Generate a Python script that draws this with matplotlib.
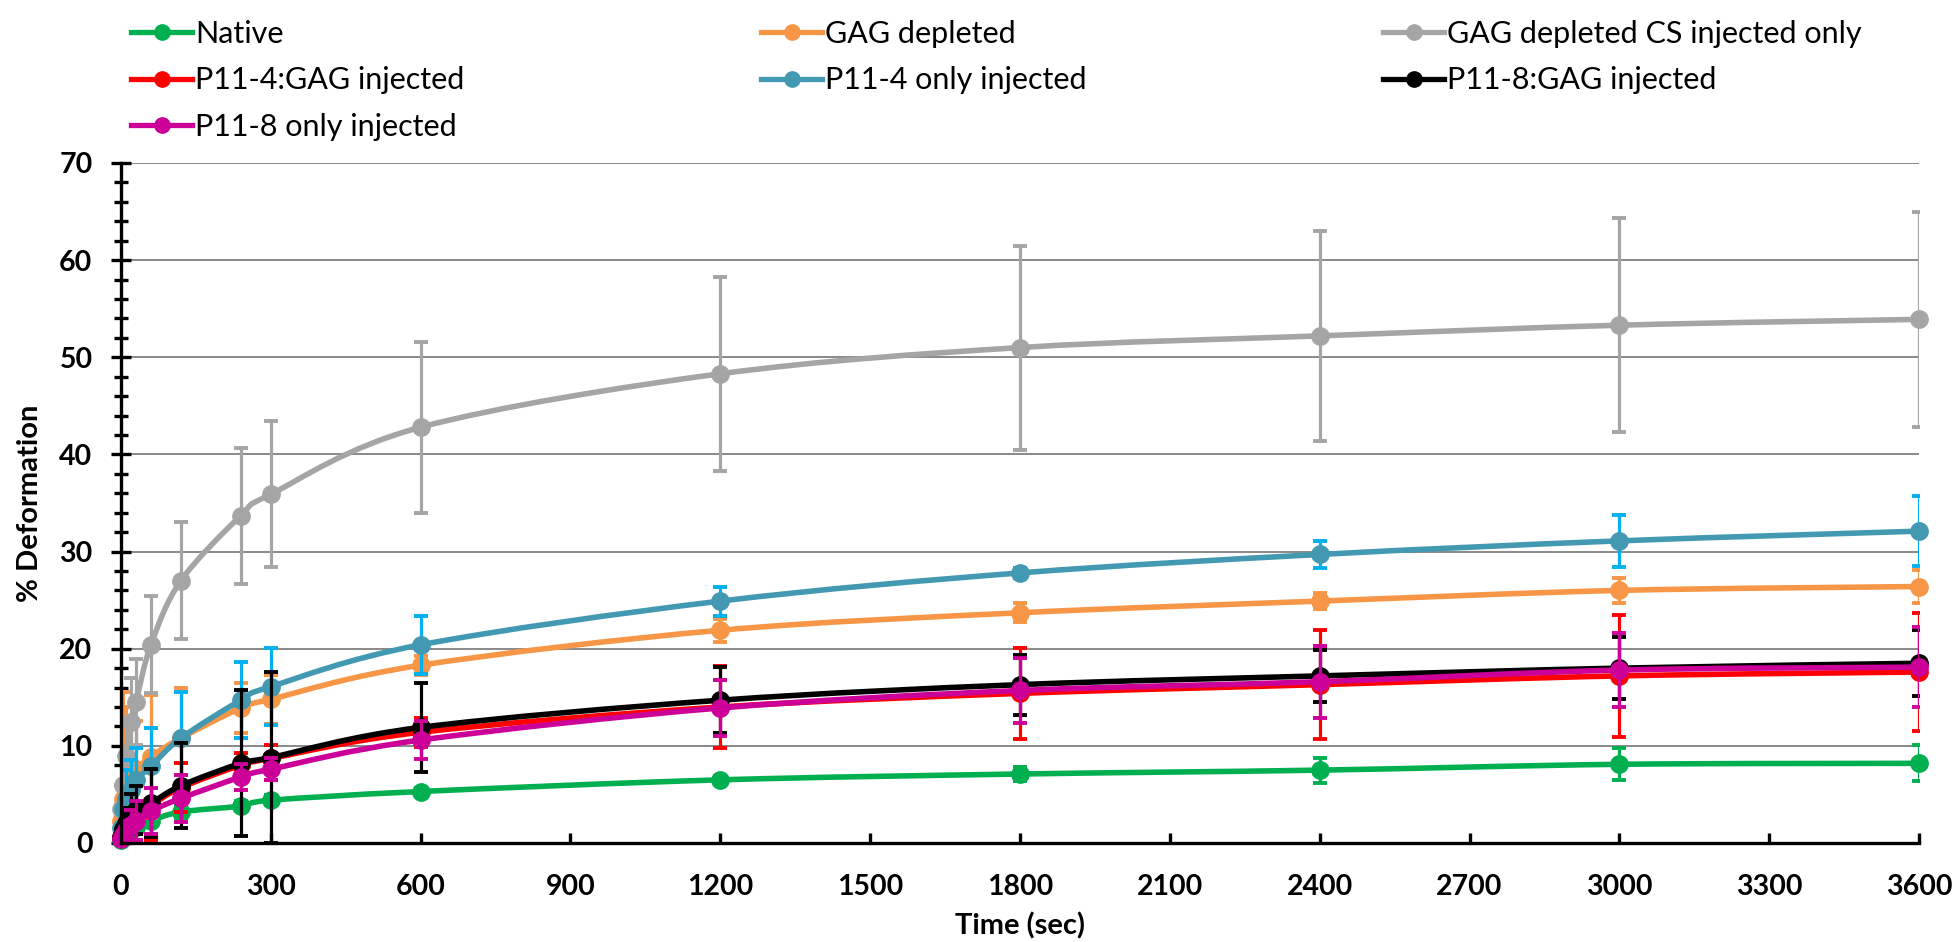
import numpy as np
import matplotlib
matplotlib.use("Agg")
import matplotlib.pyplot as plt
from matplotlib.path import Path
from matplotlib.patches import PathPatch
from matplotlib.lines import Line2D
from matplotlib.ticker import MultipleLocator

plt.rcParams['font.family'] = ['Lato', 'DejaVu Sans']

# Creep time points (s)
time_s = [1, 5, 10, 20, 30, 60, 120, 240, 300, 600, 1200, 1800, 2400, 3000, 3600]

# Mean % deformation per group
native = [0.3, 0.6, 0.9, 1.3, 1.6, 2.3, 3.2, 3.8, 4.4, 5.3, 6.5, 7.1, 7.5, 8.1, 8.2]
gag_depleted = [2.3, 4.5, 6.0, 7.0, 7.6, 8.9, 10.8, 13.9, 14.8, 18.3, 21.9, 23.7, 24.9, 26.0, 26.4]
gag_depleted_cs = [3.5, 6.0, 9.0, 12.5, 14.5, 20.4, 27.0, 33.7, 35.9, 42.8, 48.3, 51.0, 52.2, 53.3, 53.9]
p114_gag = [0.6, 1.3, 2.0, 2.8, 3.2, 3.9, 5.7, 8.0, 8.7, 11.4, 14.0, 15.4, 16.3, 17.2, 17.6]
p114_only = [1.5, 3.5, 4.5, 5.5, 6.5, 7.9, 10.8, 14.7, 16.1, 20.4, 24.9, 27.8, 29.7, 31.1, 32.1]
p118_gag = [0.6, 1.4, 2.1, 3.0, 3.4, 4.1, 5.9, 8.2, 8.8, 11.9, 14.7, 16.3, 17.2, 18.0, 18.5]
p118_only = [0.4, 0.8, 1.3, 1.9, 2.3, 3.3, 4.6, 6.8, 7.6, 10.6, 13.9, 15.7, 16.6, 17.8, 18.1]

# Standard deviations
native_sd = [0.2, 0.3, 0.4, 0.5, 0.5, 0.6, 0.6, 0.5, 0.5, 0.4, 0.4, 0.7, 1.3, 1.65, 1.85]
gag_depleted_sd = [2.0, 11.0, 8.0, 6.0, 5.0, 6.3, 5.2, 2.6, 2.5, 1.0, 1.2, 1.0, 0.8, 1.3, 1.7]
gag_depleted_cs_sd = [2.5, 3.0, 3.5, 4.5, 4.4, 5.0, 6.0, 7.0, 7.5, 8.8, 10.0, 10.5, 10.8, 11.0, 11.1]
p114_gag_sd = [0.5, 1.0, 1.5, 2.5, 3.0, 3.6, 2.5, 1.3, 1.4, 1.5, 4.2, 4.7, 5.6, 6.3, 6.1]
p114_only_sd = [1.0, 2.0, 3.0, 3.0, 3.3, 3.9, 4.7, 3.9, 4.0, 3.0, 1.5, 0.5, 1.4, 2.7, 3.6]
p118_gag_sd = [0.5, 1.0, 1.5, 2.0, 2.5, 3.5, 4.4, 7.5, 8.8, 4.6, 3.4, 3.1, 2.7, 3.2, 3.4]
p118_only_sd = [0.3, 0.6, 1.0, 1.5, 2.0, 2.4, 2.4, 1.3, 1.1, 2.0, 2.85, 3.3, 3.7, 3.85, 4.1]

labels = ["Native", "GAG depleted", "GAG depleted CS injected only",
          "P11-4:GAG injected", "P11-4 only injected", "P11-8:GAG injected",
          "P11-8 only injected"]
means = [native, gag_depleted, gag_depleted_cs, p114_gag, p114_only, p118_gag, p118_only]
sds = [native_sd, gag_depleted_sd, gag_depleted_cs_sd, p114_gag_sd, p114_only_sd,
       p118_gag_sd, p118_only_sd]
line_colors = ["#00B050", "#F79646", "#A5A5A5", "#FF0000", "#4399B1", "#000000", "#CC0099"]
err_colors = ["#00B050", "#F79646", "#A5A5A5", "#FF0000", "#00B0F0", "#000000", "#CC0099"]


def smooth_path(x, y):
    """Cubic Bezier path through the points (Catmull-Rom style control points)."""
    pts = np.column_stack([x, y]).astype(float)
    n = len(pts)
    verts = [pts[0]]
    codes = [Path.MOVETO]
    for i in range(n - 1):
        p0 = pts[i - 1] if i > 0 else pts[i]
        p1 = pts[i]
        p2 = pts[i + 1]
        p3 = pts[i + 2] if i + 2 < n else pts[i + 1]
        c1 = p1 + (p2 - p0) / 6.0
        c2 = p2 - (p3 - p1) / 6.0
        verts += [c1, c2, p2]
        codes += [Path.CURVE4] * 3
    return Path(verts, codes)


fig = plt.figure(figsize=(19.57, 9.42), dpi=100)
ax = fig.add_axes([0.0618, 0.1051, 0.9188, 0.7219])

handles = []
for i, (m, s, lab, lc, ec) in enumerate(zip(means, sds, labels, line_colors, err_colors)):
    z = 3 + i * 0.1
    ax.errorbar(time_s, m, yerr=s, fmt='none', ecolor=ec, elinewidth=2.3,
                capsize=5, capthick=2.8, zorder=z, clip_on=True)
    ax.add_patch(PathPatch(smooth_path(time_s, m), facecolor='none', edgecolor=lc,
                           lw=4.0, zorder=z + 0.02, capstyle='round', joinstyle='round'))
    ax.plot(time_s, m, linestyle='none', marker='o', ms=12.5, color=lc,
            zorder=z + 0.04, clip_on=False)
    handles.append(Line2D([], [], color=lc, lw=3.8, marker='o', ms=11, label=lab))

ax.set_xlim(0, 3600)
ax.set_ylim(0, 70)
ax.xaxis.set_major_locator(MultipleLocator(300))
ax.yaxis.set_major_locator(MultipleLocator(10))
ax.yaxis.set_minor_locator(MultipleLocator(2))

ax.grid(axis='y', which='major', color='#808080', lw=1.3, zorder=1)
ax.set_axisbelow(True)
for side in ('top', 'right'):
    ax.spines[side].set_visible(False)
for side in ('left', 'bottom'):
    ax.spines[side].set_color('black')
    ax.spines[side].set_linewidth(2.4)
    ax.spines[side].set_zorder(5)

ax.tick_params(axis='y', which='major', direction='inout', length=15, width=2.4,
               labelsize=20.5, pad=13)
ax.tick_params(axis='y', which='minor', direction='inout', length=10, width=2.4)
ax.tick_params(axis='x', which='major', direction='in', length=7.5, width=2.4,
               labelsize=20.5, pad=22)
for t in ax.get_xticklabels() + ax.get_yticklabels():
    t.set_fontweight('bold')

ax.set_xlabel("Time (sec)", fontsize=21, fontweight='bold', labelpad=9)
ax.set_ylabel("% Deformation", fontsize=21, fontweight='bold', labelpad=12)

order = [0, 3, 6, 1, 4, 2, 5]
fig.legend([handles[k] for k in order], [labels[k] for k in order],
           loc='upper left', bbox_to_anchor=(0.053, 1.008), ncol=3, frameon=False,
           fontsize=22, handlelength=2.0, handletextpad=0.1, columnspacing=9.7,
           labelspacing=0.6)

fig.savefig("out.png", dpi=100)
